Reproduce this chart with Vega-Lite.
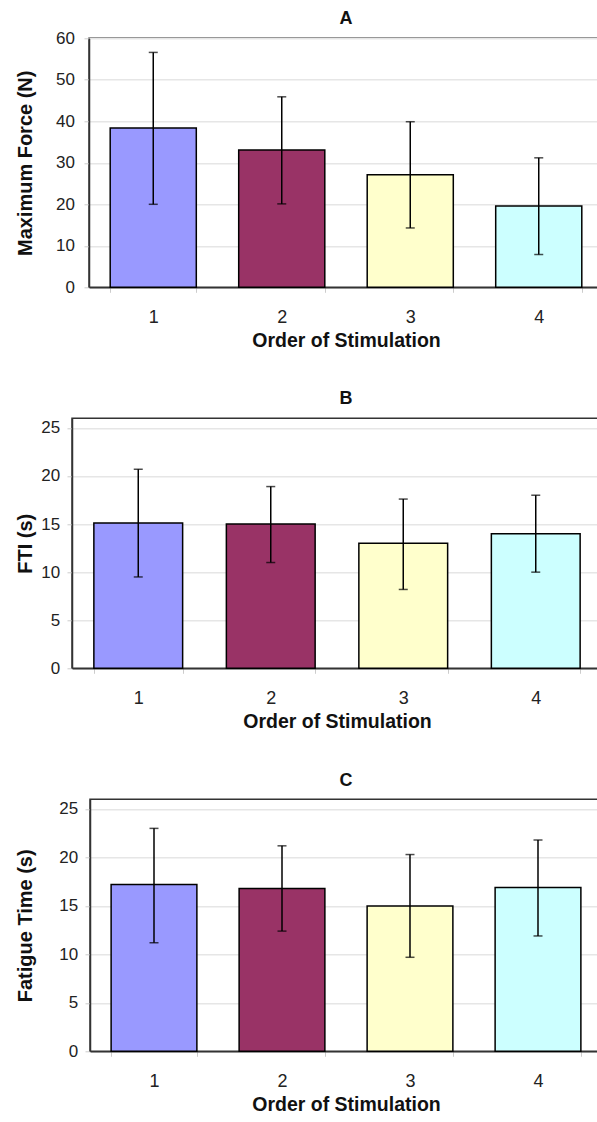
{
  "$schema": "https://vega.github.io/schema/vega-lite/v6.json",
  "padding": {"left": 13, "top": 9.3, "right": 0, "bottom": 0},
  "background": "white",
  "datasets": {
    "A": [
      {"order": "1", "mean": 38.4, "lo": 20.0, "hi": 56.6},
      {"order": "2", "mean": 33.1, "lo": 20.1, "hi": 45.9},
      {"order": "3", "mean": 27.1, "lo": 14.3, "hi": 39.9},
      {"order": "4", "mean": 19.6, "lo": 7.9, "hi": 31.2}
    ],
    "B": [
      {"order": "1", "mean": 15.1, "lo": 9.5, "hi": 20.7},
      {"order": "2", "mean": 15.0, "lo": 11.0, "hi": 18.9},
      {"order": "3", "mean": 13.0, "lo": 8.2, "hi": 17.6},
      {"order": "4", "mean": 14.0, "lo": 10.0, "hi": 18.0}
    ],
    "C": [
      {"order": "1", "mean": 17.2, "lo": 11.2, "hi": 23.0},
      {"order": "2", "mean": 16.8, "lo": 12.4, "hi": 21.2},
      {"order": "3", "mean": 15.0, "lo": 9.7, "hi": 20.3},
      {"order": "4", "mean": 16.9, "lo": 11.9, "hi": 21.8}
    ],
    "empty": []
  },
  "vconcat": [
    {"spacing": 0, "hconcat": [
      {"data": {"name": "empty"}, "mark": "point", "width": 1, "height": 1, "view": {"stroke": null}},
      {
        "data": {"name": "A"},
        "title": {"text": "A", "offset": 1},
        "width": 514,
        "height": 249,
        "encoding": {
          "x": {"field": "order", "type": "ordinal", "title": "Order of Stimulation",
                "scale": {"paddingInner": 0.33, "paddingOuter": 0.165}}
        },
        "layer": [
          {
            "mark": {"type": "bar", "stroke": "#000", "strokeWidth": 1.5},
            "encoding": {
              "y": {"field": "mean", "type": "quantitative", "title": "Maximum Force (N)",
                    "scale": {"domain": [0, 60]},
                    "axis": {"values": [0, 10, 20, 30, 40, 50, 60], "labelPadding": 9.6, "titlePadding": 19.8}},
              "color": {"field": "order", "type": "nominal", "legend": null,
                        "scale": {"domain": ["1", "2", "3", "4"], "range": ["#9999FF", "#993366", "#FFFFCC", "#CCFFFF"]}}
            }
          },
          {
            "mark": {"type": "rule", "color": "#000", "strokeWidth": 1.5},
            "encoding": {"y": {"field": "lo", "type": "quantitative", "title": "Maximum Force (N)"}, "y2": {"field": "hi"}}
          },
          {
            "mark": {"type": "tick", "color": "#000", "size": 9, "thickness": 1.5},
            "encoding": {"y": {"field": "lo", "type": "quantitative", "title": "Maximum Force (N)"}}
          },
          {
            "mark": {"type": "tick", "color": "#000", "size": 9, "thickness": 1.5},
            "encoding": {"y": {"field": "hi", "type": "quantitative", "title": "Maximum Force (N)"}}
          }
        ]
      }
    ]},
    {"spacing": 0, "hconcat": [
      {"data": {"name": "empty"}, "mark": "point", "width": 1, "height": 1, "view": {"stroke": null}},
      {
        "data": {"name": "B"},
        "title": {"text": "B", "offset": 10, "dx": 9},
        "width": 530,
        "height": 250,
        "encoding": {
          "x": {"field": "order", "type": "ordinal", "title": "Order of Stimulation",
                "scale": {"paddingInner": 0.33, "paddingOuter": 0.165}}
        },
        "layer": [
          {
            "mark": {"type": "bar", "stroke": "#000", "strokeWidth": 1.5},
            "encoding": {
              "y": {"field": "mean", "type": "quantitative", "title": "FTI (s)",
                    "scale": {"domain": [0, 25]},
                    "axis": {"values": [0, 5, 10, 15, 20, 25], "labelPadding": 7.4, "titlePadding": 5.4}},
              "color": {"field": "order", "type": "nominal", "legend": null,
                        "scale": {"domain": ["1", "2", "3", "4"], "range": ["#9999FF", "#993366", "#FFFFCC", "#CCFFFF"]}}
            }
          },
          {
            "mark": {"type": "rule", "color": "#000", "strokeWidth": 1.5},
            "encoding": {"y": {"field": "lo", "type": "quantitative", "title": "FTI (s)"}, "y2": {"field": "hi"}}
          },
          {
            "mark": {"type": "tick", "color": "#000", "size": 9, "thickness": 1.5},
            "encoding": {"y": {"field": "lo", "type": "quantitative", "title": "FTI (s)"}}
          },
          {
            "mark": {"type": "tick", "color": "#000", "size": 9, "thickness": 1.5},
            "encoding": {"y": {"field": "hi", "type": "quantitative", "title": "FTI (s)"}}
          }
        ]
      }
    ]},
    {"spacing": 0, "hconcat": [
      {"data": {"name": "empty"}, "mark": "point", "width": 1, "height": 1, "view": {"stroke": null}},
      {
        "data": {"name": "C"},
        "title": {"text": "C", "offset": 9.3},
        "width": 512,
        "height": 252,
        "encoding": {
          "x": {"field": "order", "type": "ordinal", "title": "Order of Stimulation",
                "scale": {"paddingInner": 0.33, "paddingOuter": 0.165}}
        },
        "layer": [
          {
            "mark": {"type": "bar", "stroke": "#000", "strokeWidth": 1.5},
            "encoding": {
              "y": {"field": "mean", "type": "quantitative", "title": "Fatigue Time (s)",
                    "scale": {"domain": [0, 25]},
                    "axis": {"values": [0, 5, 10, 15, 20, 25], "labelPadding": 7.3, "titlePadding": 23.1}},
              "color": {"field": "order", "type": "nominal", "legend": null,
                        "scale": {"domain": ["1", "2", "3", "4"], "range": ["#9999FF", "#993366", "#FFFFCC", "#CCFFFF"]}}
            }
          },
          {
            "mark": {"type": "rule", "color": "#000", "strokeWidth": 1.5},
            "encoding": {"y": {"field": "lo", "type": "quantitative", "title": "Fatigue Time (s)"}, "y2": {"field": "hi"}}
          },
          {
            "mark": {"type": "tick", "color": "#000", "size": 9, "thickness": 1.5},
            "encoding": {"y": {"field": "lo", "type": "quantitative", "title": "Fatigue Time (s)"}}
          },
          {
            "mark": {"type": "tick", "color": "#000", "size": 9, "thickness": 1.5},
            "encoding": {"y": {"field": "hi", "type": "quantitative", "title": "Fatigue Time (s)"}}
          }
        ]
      }
    ]}
  ],
  "spacing": 38,
  "config": {
    "font": "Liberation Sans",
    "view": {"stroke": "#333", "strokeWidth": 1.5},
    "title": {"fontSize": 18, "fontWeight": "bold", "color": "#111", "font": "Liberation Sans"},
    "axisX": {
      "domainColor": "#333", "domainWidth": 1.5,
      "tickBand": "extent", "tickColor": "#cccccc", "tickSize": 5,
      "labelAngle": 0, "labelFontSize": 18, "labelColor": "#222", "labelPadding": 16,
      "titleFontSize": 19.5, "titleFontWeight": "bold", "titleColor": "#111", "titlePadding": 5,
      "grid": false
    },
    "axisY": {
      "domainColor": "#333", "domainWidth": 1.5,
      "tickColor": "#cccccc", "tickSize": 5,
      "labelFontSize": 17, "labelColor": "#222",
      "titleFontSize": 20, "titleFontWeight": "bold", "titleColor": "#111",
      "grid": true, "gridColor": "#e6e6e6", "gridWidth": 1.5
    }
  }
}
